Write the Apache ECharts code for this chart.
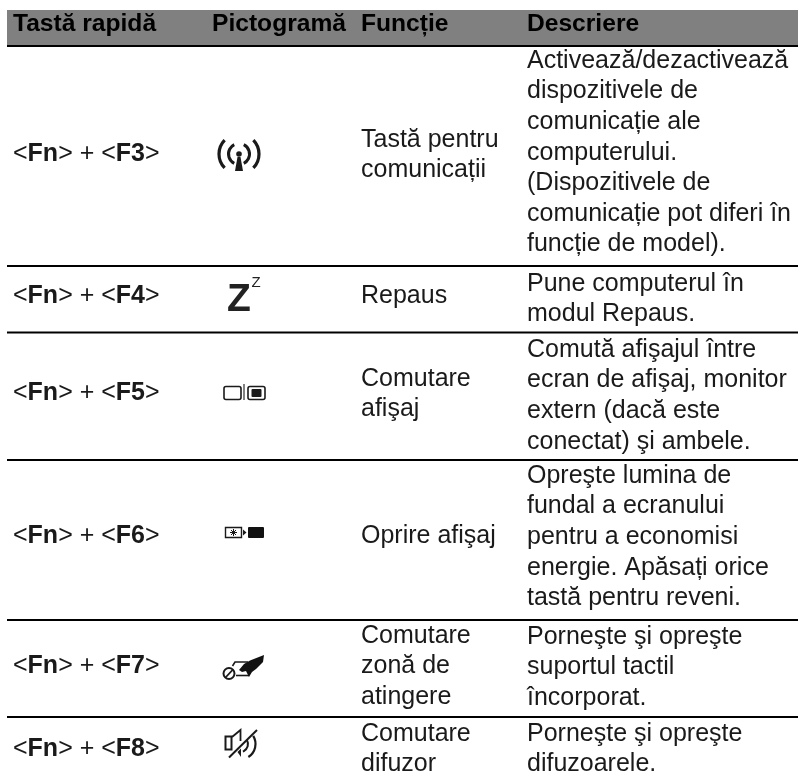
<!DOCTYPE html>
<html>
<head>
<meta charset="utf-8">
<title>Taste rapide</title>
<style>
  html, body { margin: 0; padding: 0; background: #fff; }
  #mychart { width: 798px; height: 779px; }
</style>
<script src="https://cdn.jsdelivr.net/npm/echarts@6/dist/echarts.min.js"></script>
</head>
<body>
<div id="mychart"></div>
<script>
// table content
var headers = ['Tastă rapidă', 'Pictogramă', 'Funcție', 'Descriere']
var keys = ['F3', 'F4', 'F5', 'F6', 'F7', 'F8']
var functions = [
  ['Tastă pentru', 'comunicații'],
  ['Repaus'],
  ['Comutare', 'afişaj'],
  ['Oprire afişaj'],
  ['Comutare', 'zonă de', 'atingere'],
  ['Comutare', 'difuzor']
]
var descriptions = [
  ['Activează/dezactivează', 'dispozitivele de', 'comunicație ale', 'computerului.', '(Dispozitivele de', 'comunicație pot diferi în', 'funcție de model).'],
  ['Pune computerul în', 'modul Repaus.'],
  ['Comută afişajul între', 'ecran de afişaj, monitor', 'extern (dacă este', 'conectat) şi ambele.'],
  ['Opreşte lumina de', 'fundal a ecranului', 'pentru a economisi', 'energie. Apăsați orice', 'tastă pentru reveni.'],
  ['Porneşte şi opreşte', 'suportul tactil', 'încorporat.'],
  ['Porneşte şi opreşte', 'difuzoarele.']
]

// layout, in page pixels (the axes below run 0..798 and 779..0)
var columnX = [13, 212, 361, 527]
var headerTop = 10
var headerBottom = 45
var ruleY = [46, 266, 332.5, 460, 620, 717]
var rowCenterY = [154, 296, 393, 536, 666, 749]
var functionFirstY = [140, 296, 379, 536, 636, 734]
var descriptionFirstY = [61, 284, 350, 476, 637, 734]
var lineStep = 30.6
var FONT = '"Liberation Sans", Arial, sans-serif'
var SIZE = 25
var INK = '#1a1a1a'

function txt(api, x, y, text, opt) {
  var p = api.coord([x, y])
  return {
    type: 'text', x: p[0], y: p[1],
    style: Object.assign({
      text: text, fontFamily: FONT, fontSize: SIZE, fill: INK,
      textAlign: 'left', verticalAlign: 'middle'
    }, opt || {})
  }
}

function stroke(w, c) {
  return { fill: 'none', stroke: c || INK, lineWidth: w }
}

// icons, one function per row
function iconWireless(cx, cy) {
  var out = []
  ;[[20, 3.2, 0.77], [10.5, 3, 1.1]].forEach(function (a) {
    var d = a[2]
    out.push({ type: 'arc', shape: { cx: cx, cy: cy, r: a[0], startAngle: -d, endAngle: d }, style: stroke(a[1]) })
    out.push({ type: 'arc', shape: { cx: cx, cy: cy, r: a[0], startAngle: Math.PI - d, endAngle: Math.PI + d }, style: stroke(a[1]) })
  })
  out.push({ type: 'circle', shape: { cx: cx, cy: cy, r: 2.8 }, style: { fill: INK } })
  out.push({ type: 'polygon', shape: { points: [[cx - 1.5, cy + 3], [cx + 1.5, cy + 3], [cx + 4, cy + 17], [cx - 4, cy + 17]] }, style: { fill: INK } })
  return out
}
function iconSleep(api) {
  return [
    txt(api, 227, 300, 'Z', { fontSize: 39, fontWeight: 'bold', fill: '#222' }),
    txt(api, 251.5, 283, 'Z', { fontSize: 15, fill: '#222' })
  ]
}
function iconDisplay() {
  return [
    { type: 'rect', shape: { x: 224, y: 386.5, width: 17, height: 13, r: 2 }, style: stroke(1.6) },
    { type: 'line', shape: { x1: 244, y1: 384, x2: 244, y2: 400 }, style: stroke(1.1) },
    { type: 'rect', shape: { x: 248, y: 386.5, width: 17, height: 13, r: 2 }, style: stroke(1.6) },
    { type: 'rect', shape: { x: 251.5, y: 389, width: 10, height: 8, r: 1 }, style: { fill: INK } }
  ]
}
function iconBacklight() {
  return [
    { type: 'rect', shape: { x: 225.5, y: 527.5, width: 16, height: 10 }, style: stroke(1.4) },
    { type: 'line', shape: { x1: 230, y1: 532.5, x2: 237, y2: 532.5 }, style: stroke(1) },
    { type: 'line', shape: { x1: 233.5, y1: 529, x2: 233.5, y2: 536 }, style: stroke(1) },
    { type: 'line', shape: { x1: 231, y1: 530, x2: 236, y2: 535 }, style: stroke(1) },
    { type: 'line', shape: { x1: 236, y1: 530, x2: 231, y2: 535 }, style: stroke(1) },
    { type: 'polygon', shape: { points: [[243, 529.5], [246.5, 532.5], [243, 535.5]] }, style: { fill: INK } },
    { type: 'rect', shape: { x: 248, y: 527, width: 16, height: 11, r: 1 }, style: { fill: '#111' } }
  ]
}
function iconTouchpad() {
  return [
    { type: 'circle', shape: { cx: 229, cy: 673.5, r: 5.5 }, style: stroke(2) },
    { type: 'line', shape: { x1: 225.5, y1: 677.5, x2: 233, y2: 669.5 }, style: stroke(1.8) },
    { type: 'polyline', shape: { points: [[232.5, 666], [235, 662], [248, 662]] }, style: stroke(1.6) },
    { type: 'polyline', shape: { points: [[236, 675.5], [249, 675.5]] }, style: stroke(1.6) },
    { type: 'polygon', shape: { points: [[239, 670], [244, 664], [250, 660.5], [264, 655], [263, 662], [256, 669], [252, 672], [249, 677], [246, 671], [242, 672]] }, style: { fill: '#111' } }
  ]
}
function iconSpeakerOff() {
  return [
    { type: 'rect', shape: { x: 225.5, y: 736.5, width: 6, height: 13 }, style: stroke(2) },
    { type: 'polyline', shape: { points: [[232, 737], [240.5, 730], [240.5, 741]] }, style: stroke(1.8) },
    { type: 'polygon', shape: { points: [[237.5, 752], [241, 748.5], [241, 757]] }, style: { fill: INK } },
    { type: 'line', shape: { x1: 229, y1: 757.5, x2: 257, y2: 730 }, style: stroke(2) },
    { type: 'arc', shape: { cx: 240, cy: 744, r: 8, startAngle: -0.5, endAngle: 1.2 }, style: stroke(2) },
    { type: 'arc', shape: { cx: 240, cy: 744, r: 15.5, startAngle: -0.55, endAngle: 1.0 }, style: stroke(2.2) }
  ]
}

var myChart = echarts.init(document.getElementById('mychart'), null, { renderer: 'canvas' })

var option = {
  animation: false,
  backgroundColor: '#fff',
  grid: { left: 0, right: 0, top: 0, bottom: 0 },
  xAxis: { type: 'value', min: 0, max: 798, show: false },
  yAxis: { type: 'value', min: 0, max: 779, inverse: true, show: false },
  series: [
    {
      // header band
      type: 'custom',
      clip: false,
      silent: true,
      data: [0],
      renderItem: function (params, api) {
        var a = api.coord([7, headerTop])
        var b = api.coord([798, headerBottom])
        var kids = [{ type: 'rect', shape: { x: a[0], y: a[1], width: b[0] - a[0], height: b[1] - a[1] }, style: { fill: '#808080' } }]
        headers.forEach(function (h, i) {
          kids.push(txt(api, columnX[i], 24, h, { fontWeight: 'bold', fill: '#000', fontSize: 24.6 }))
        })
        return { type: 'group', children: kids }
      }
    },
    {
      // horizontal rules
      type: 'custom',
      clip: false,
      silent: true,
      data: ruleY,
      renderItem: function (params, api) {
        var y = api.value(0)
        var a = api.coord([7, y])
        var b = api.coord([798, y])
        return { type: 'line', shape: { x1: a[0], y1: a[1], x2: b[0], y2: b[1] }, style: { stroke: '#000', lineWidth: 2 } }
      },
      encode: { y: 0 }
    },
    {
      // table rows
      type: 'custom',
      clip: false,
      silent: true,
      data: keys.map(function (k, i) { return [i] }),
      renderItem: function (params, api) {
        var i = params.dataIndex
        var kids = []
        kids.push(txt(api, columnX[0], rowCenterY[i], '<{b|Fn}> + <{b|' + keys[i] + '}>', {
          rich: { b: { fontFamily: FONT, fontSize: SIZE, fontWeight: 'bold', fill: INK } }
        }))
        functions[i].forEach(function (line, j) {
          kids.push(txt(api, columnX[2], functionFirstY[i] + j * lineStep, line))
        })
        descriptions[i].forEach(function (line, j) {
          kids.push(txt(api, columnX[3], descriptionFirstY[i] + j * lineStep, line))
        })
        var icon = i === 0 ? iconWireless(239, 154)
          : i === 1 ? iconSleep(api)
          : i === 2 ? iconDisplay()
          : i === 3 ? iconBacklight()
          : i === 4 ? iconTouchpad()
          : iconSpeakerOff()
        return { type: 'group', children: kids.concat(icon) }
      }
    }
  ]
}

myChart.setOption(option)
</script>
</body>
</html>
